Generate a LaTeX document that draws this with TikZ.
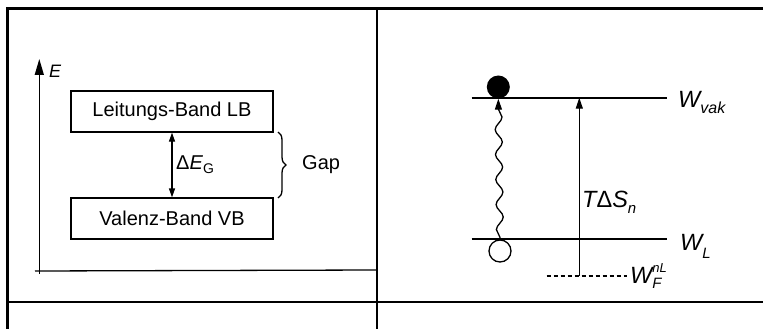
\documentclass[tikz,border=0pt]{standalone}
\usepackage{fontspec}
\setmainfont{Liberation Sans}
\usetikzlibrary{arrows.meta,decorations.pathreplacing,decorations.pathmorphing}
\begin{document}
\begin{tikzpicture}[x=1pt,y=-1pt,
  frame/.style={line width=2.4pt},
  thinline/.style={line width=1.3pt},
  band/.style={draw, line width=1.3pt, minimum width=202pt, minimum height=41pt, inner sep=0pt, font=\fontsize{20}{24}\selectfont},
  lbl/.style={inner sep=0pt, font=\fontsize{20}{24}\selectfont},
  rlbl/.style={inner sep=0pt, anchor=base west, font=\fontsize{23.5}{26}\selectfont\itshape},
  level/.style={line width=2pt},
  tip/.style={-{Triangle[length=11pt,width=7pt]}}
]
\useasboundingbox (0,0) rectangle (763,329);
% frame
\coordinate (fTL) at (7.5,8.5);
\coordinate (fTR) at (763,8.5);
\coordinate (fBL) at (7.5,329);
\coordinate (mT) at (376.7,8.5);
\coordinate (mB) at (376.7,329);
\coordinate (hL) at (7.5,302);
\coordinate (hR) at (763,302);
\draw[frame] (fTR) -- (fTL) -- (fBL);
\draw[frame] (mT) -- (mB);
\draw[frame] (hL) -- (hR);
% left panel axes
\coordinate (ybot) at (39.3,274);
\coordinate (ytop) at (39.3,59);
\coordinate (xbeg) at (35,271);
\coordinate (xend) at (376,270);
\draw[line width=1.4pt, -{Triangle[length=16pt,width=9pt]}] (ybot) -- (ytop);
\draw[line width=1.3pt] (xbeg) -- (xend);
\node[lbl, font=\fontsize{18}{20}\selectfont\itshape, anchor=west] (E) at (49,71) {E};
% bands
\node[band] (LB) at (172,111.5) {Leitungs-Band LB};
\node[band] (VB) at (172,218.5) {Valenz-Band VB};
\draw[thinline, {Triangle[length=9pt,width=6pt]}-{Triangle[length=9pt,width=6pt]}] (LB.south) -- (VB.north);
\node[lbl, anchor=west] (dEG) at (176,165) {Δ\textit{E}\raisebox{-4pt}{\fontsize{14}{14}\selectfont G}};
\coordinate (bt) at (278,132);
\coordinate (bb) at (278,198);
\draw[thinline, decorate, decoration={brace, amplitude=8pt}] (bt) -- (bb);
\node[lbl, anchor=west] (gap) at (302,165) {Gap};
% right panel
\coordinate (vakL) at (471.7,97.7);
\coordinate (vakR) at (666.7,97.7);
\coordinate (wlL) at (471.7,239.3);
\coordinate (wlR) at (666.7,239.3);
\draw[level] (vakL) -- (vakR);
\draw[level] (wlL) -- (wlR);
\node[circle, fill, minimum size=23pt, inner sep=0pt] (el) at (498.3,87) {};
\node[circle, draw, line width=1.3pt, minimum size=22pt, inner sep=0pt] (ho) at (500,251) {};
\draw[thinline, tip, decorate, decoration={snake, segment length=25pt, amplitude=3.5pt, pre length=2pt, post length=10pt}] (ho.north) -- (el.south);
\coordinate (fb) at (579.3,276);
\coordinate (ft) at (579.3,97.7);
\draw[thinline, tip] (fb) -- (ft);
\coordinate (dl) at (546.7,276);
\coordinate (dr) at (626.7,276);
\draw[thinline, dash pattern=on 4pt off 3pt] (dl) -- (dr);
% labels
\node[rlbl] (wvak) at (678,107) {W\raisebox{-6pt}{\fontsize{16}{16}\selectfont vak}};
\node[rlbl] (wl) at (680,250) {W\raisebox{-8pt}{\fontsize{15}{15}\selectfont L}};
\node[rlbl] (wf) at (630,283) {W\rlap{\raisebox{11pt}{\fontsize{13}{13}\selectfont nL}}\raisebox{-5pt}{\fontsize{15}{15}\selectfont F}};
\node[rlbl] (tds) at (582,207) {T{\upshape Δ}S\raisebox{-6pt}{\fontsize{15}{15}\selectfont n}};
\end{tikzpicture}
\end{document}
